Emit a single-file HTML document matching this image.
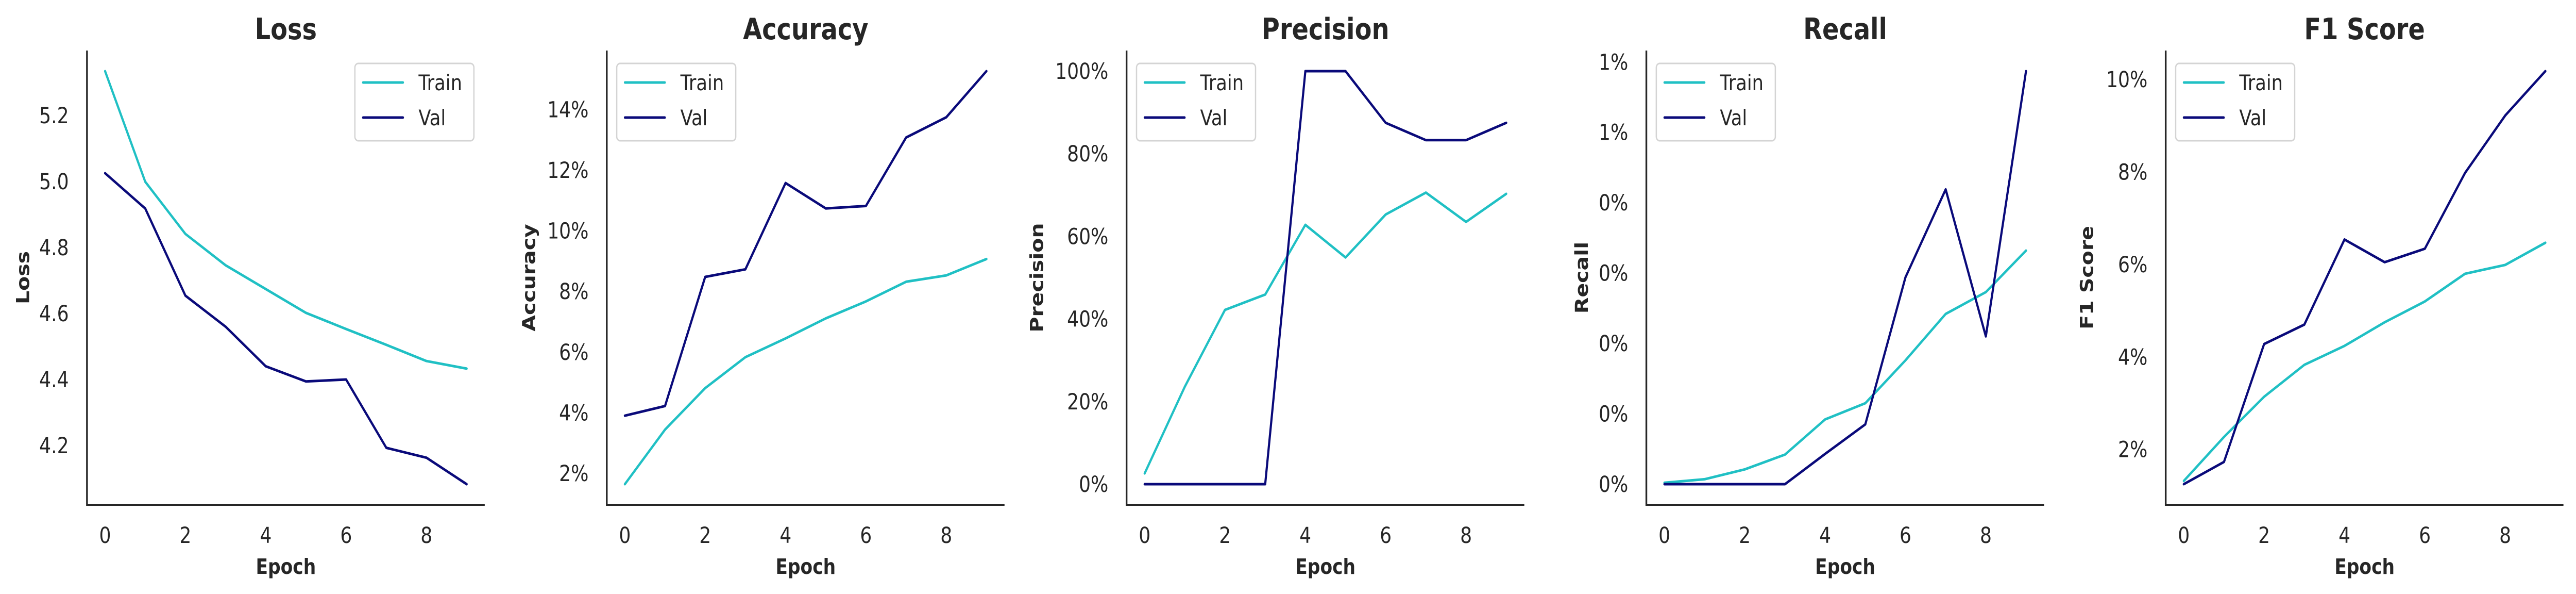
<!DOCTYPE html>
<html><head><meta charset="utf-8"><style>
html,body{margin:0;padding:0;background:#fff;width:100%;height:100%;overflow:hidden;}
svg{display:block;width:100vw;height:100vh;}
text{font-family:"DejaVu Sans","Liberation Sans",sans-serif;fill:#262626;}
</style></head><body>
<svg id="fig" xmlns="http://www.w3.org/2000/svg" viewBox="0 0 5952 1152" preserveAspectRatio="none"></svg>
<script>
const epochs = [0,1,2,3,4,5,6,7,8,9];
const xTicks = [0,2,4,6,8];
const lossTrain = [5.334,4.999,4.841,4.746,4.674,4.602,4.553,4.505,4.456,4.433];
const lossVal = [5.025,4.918,4.654,4.560,4.440,4.394,4.400,4.193,4.163,4.083];
const lossTicks = [4.2,4.4,4.6,4.8,5.0,5.2];
const lossTickLabels = ["4.2","4.4","4.6","4.8","5.0","5.2"];
const accTrain = [1.64,3.44,4.81,5.83,6.45,7.11,7.67,8.32,8.53,9.07];
const accVal = [3.90,4.22,8.48,8.73,11.58,10.74,10.82,13.08,13.75,15.27];
const accTicks = [2,4,6,8,10,12,14];
const accTickLabels = ["2%","4%","6%","8%","10%","12%","14%"];
const precTrain = [2.6,23.6,42.2,45.9,62.8,54.9,65.3,70.6,63.5,70.3];
const precVal = [0,0,0,0,100,100,87.5,83.3,83.3,87.5];
const precTicks = [0,20,40,60,80,100];
const precTickLabels = ["0%","20%","40%","60%","80%","100%"];
const recTrain = [0.00002,0.00007,0.00021,0.00042,0.00092,0.00115,0.00176,0.00242,0.00273,0.00332];
const recVal = [0,0,0,0,0.00043,0.00085,0.00294,0.00419,0.00210,0.00587];
const recTicks = [0,0.001,0.002,0.003,0.004,0.005,0.006];
const recTickLabels = ["0%","0%","0%","0%","0%","1%","1%"];
const f1Train = [1.32,2.27,3.14,3.83,4.24,4.75,5.20,5.80,5.99,6.47];
const f1Val = [1.25,1.73,4.28,4.70,6.54,6.05,6.34,7.98,9.22,10.18];
const f1Ticks = [2,4,6,8,10];
const f1TickLabels = ["2%","4%","6%","8%","10%"];

const NS="http://www.w3.org/2000/svg";
const svg=document.getElementById('fig');
function mk(tag,attrs,parent){const e=document.createElementNS(NS,tag);for(const k in attrs)e.setAttribute(k,attrs[k]);(parent||svg).appendChild(e);return e;}

const panels=[
 {key:'loss',title:'Loss',ylabel:'Loss',left:201,ylx:52,train:lossTrain,val:lossVal,ticks:lossTicks,labels:lossTickLabels,legend:'right'},
 {key:'accuracy',title:'Accuracy',ylabel:'Accuracy',left:1402,ylx:1221,train:accTrain,val:accVal,ticks:accTicks,labels:accTickLabels,legend:'left'},
 {key:'precision',title:'Precision',ylabel:'Precision',left:2603,ylx:2395,train:precTrain,val:precVal,ticks:precTicks,labels:precTickLabels,legend:'left'},
 {key:'recall',title:'Recall',ylabel:'Recall',left:3804,ylx:3654,train:recTrain,val:recVal,ticks:recTicks,labels:recTickLabels,legend:'left'},
 {key:'f1',title:'F1 Score',ylabel:'F1 Score',left:5004,ylx:4821,train:f1Train,val:f1Val,ticks:f1Ticks,labels:f1TickLabels,legend:'left'}
];
const W=919, TOP=98, BOT=979;
const TRAIN_C='#20c0c4', VAL_C='#0a0a7a';

panels.forEach(p=>{
  const g=mk('g',{});
  
  
  const all=p.train.concat(p.val);
  const mn=Math.min(...all), mx=Math.max(...all), m=(mx-mn)*0.05;
  const y0=mn-m, y1=mx+m;
  const xmin=-0.45, xmax=epochs.length-1+0.45;
  const X=v=>p.left+(v-xmin)/(xmax-xmin)*W;
  const Y=v=>BOT-(v-y0)/(y1-y0)*(BOT-TOP);
  const cx=p.left+W/2;
  const t=mk('text',{x:cx,y:76,'text-anchor':'middle','font-size':57,'font-weight':'bold'},g);
  t.textContent=p.title;
  
  
  p.ticks.forEach((v,i)=>{
    const tl=mk('text',{x:p.left-42,y:Y(v)+15,'text-anchor':'end','font-size':43},g);
    tl.textContent=p.labels[i];
    
    
  });
  xTicks.forEach(v=>{
    const tl=mk('text',{x:X(v),y:1053,'text-anchor':'middle','font-size':43},g);
    tl.textContent=String(v);
    
    
  });
  const xl=mk('text',{x:cx,y:1113,'text-anchor':'middle','font-size':41,'font-weight':'bold'},g);
  xl.textContent='Epoch';
  
  
  const yl=mk('text',{x:0,y:0,'text-anchor':'middle','font-size':41,'font-weight':'bold',transform:`translate(${p.ylx+15},${(TOP+BOT)/2}) rotate(-90)`},g);
  yl.textContent=p.ylabel;
  
  
  const sp=mk('path',{d:`M${p.left},${TOP} L${p.left},${BOT} L${p.left+W},${BOT}`,fill:'none',stroke:'#262626','stroke-width':4},g);
  
  
  [[p.train,TRAIN_C,'train'],[p.val,VAL_C,'val']].forEach(([arr,c,n])=>{
    const d=arr.map((v,i)=>(i?'L':'M')+X(epochs[i]).toFixed(1)+','+Y(v).toFixed(1)).join(' ');
    const ln=mk('path',{d:d,fill:'none',stroke:c,'stroke-width':5,'stroke-linejoin':'round','stroke-linecap':'round'},g);
    
    
  });
  const lx=p.legend==='right'?p.left+W-25-275:p.left+23;
  const lg=mk('g',{},g);
  
  
  mk('rect',{x:lx,y:123,width:275,height:150,rx:8,fill:'#fff','fill-opacity':0.8,stroke:'#d4d4d4','stroke-width':3},lg);
  [['Train',TRAIN_C,160],['Val',VAL_C,228]].forEach(([lab,c,yy])=>{
    const e=mk('g',{},lg);
    
    
    mk('line',{x1:lx+19,x2:lx+111,y1:yy,y2:yy,stroke:c,'stroke-width':5,'stroke-linecap':'round'},e);
    const tx=mk('text',{x:lx+147,y:yy+15,'font-size':42},e);
    tx.textContent=lab;
  });
});
</script>
</body></html>
